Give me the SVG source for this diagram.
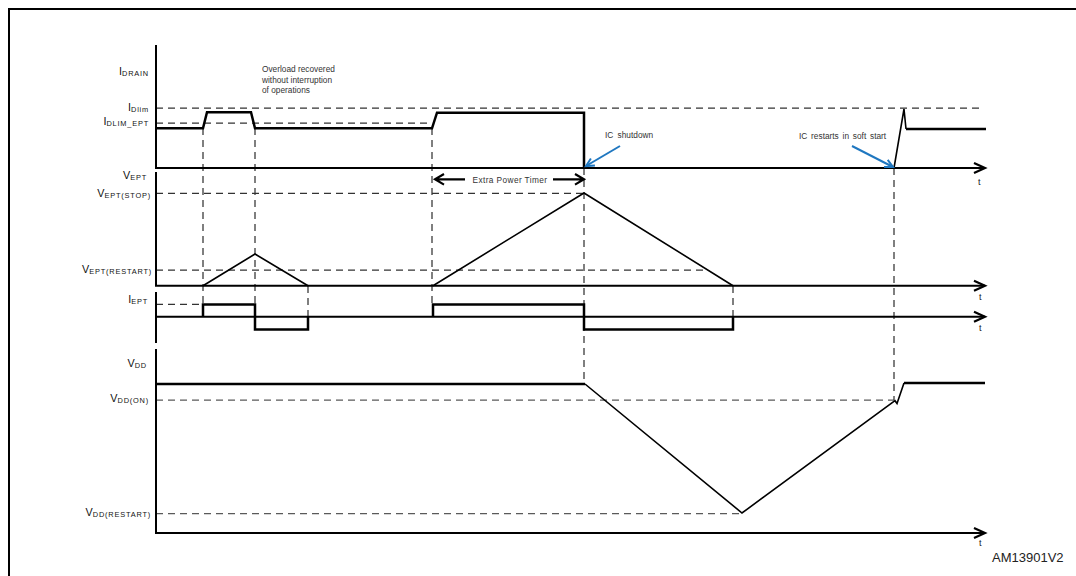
<svg xmlns="http://www.w3.org/2000/svg" width="1076" height="576" viewBox="0 0 1076 576">
<style>
.frame{stroke:#000;stroke-width:2;fill:none}
.ax{stroke:#000;stroke-width:2;fill:none}
.ah{stroke:#000;stroke-width:2.2;fill:none}
.wf{stroke:#000;stroke-width:2.5;fill:none;stroke-linejoin:miter}
.wt{stroke:#000;stroke-width:1.6;fill:none}
.dash{stroke:#333;stroke-width:1.25;stroke-dasharray:7 5;fill:none}
.dashg{stroke:#5a5a5a;stroke-width:1.25;stroke-dasharray:7 5;fill:none}
.lbl{font-family:"Liberation Sans",Arial,sans-serif;font-size:10.8px;fill:#111}
.sub{font-size:7.4px;letter-spacing:0.8px}
.note{font-family:"Liberation Sans",Arial,sans-serif;font-size:8.3px;fill:#333}
.tl{font-family:"Liberation Sans",Arial,sans-serif;font-size:9px;fill:#1a1a1a}
.blue{stroke:#1f77c0;stroke-width:2;fill:none}
</style>
<defs>
<marker id="bh" markerUnits="userSpaceOnUse" markerWidth="12" markerHeight="12" refX="9" refY="5" orient="auto">
<path d="M1,1 L9,5 L1,9" stroke="#1f77c0" stroke-width="2" fill="none"/>
</marker>
</defs>
<path class="frame" d="M9,590 V9 H1090"/>

<g id="guides">
<path class="dash" d="M156,108 H982 M156,123 H432 M156,193.3 H584 M156,270 H707 M156,304.3 H203"/>
<path class="dashg" d="M156,400 H894 M156,513.7 H741"/>
<path class="dash" d="M203,128 V304 M255,128 V329 M308,286 V329 M432,128 V304 M584,168 V384 M733,286 V329 M894,168 V400"/>
</g>

<g id="axes">
<path class="ax" d="M156,45 V168 H985"/>
<path class="ax" d="M156,172 V285.7 H985"/>
<path class="ax" d="M156,292 V343 M156,316.7 H985"/>
<path class="ax" d="M156,349 V533 H985"/>
<path class="ah" d="M974,163 L985,168 L974,173 M974,280.7 L985,285.7 L974,290.7 M974,311.7 L985,316.7 L974,321.7 M974,528 L985,533 L974,538"/>
<text class="tl" x="978" y="185">t</text>
<text class="tl" x="979" y="300">t</text>
<text class="tl" x="979" y="331">t</text>
<text class="tl" x="979" y="546">t</text>
</g>

<g id="idrain-wave">
<path class="wf" d="M156,128.3 H203 L207,112.3 H251 L255,128.3 H432 L437,112.7 H584 V168"/>
<path class="wt" d="M894,168 L904,109 L906,129"/>
<path class="wf" d="M906,129 H986"/>
</g>

<g id="vept-wave">
<path class="wt" d="M203,285.7 L255,254 L308,285.7"/>
<path class="wt" d="M433,285.7 L584,193 L733,285.7"/>
</g>

<g id="iept-wave">
<path class="wf" d="M203,316.7 V304.5 H255 V329.5 H308 V316.7"/>
<path class="wf" d="M433,316.7 V304.5 H584 V329.5 H733 V316.7"/>
</g>

<g id="vdd-wave">
<path class="wf" d="M156,384 H585"/>
<path class="wt" d="M585,384 L742,513 L895,400.7 L897,403.5 L904,383"/>
<path class="wf" d="M904,383 H985"/>
</g>

<g id="labels">
<text class="lbl" x="149" y="75" text-anchor="end">I<tspan class="sub" dy="1">DRAIN</tspan></text>
<text class="lbl" x="149" y="110.5" text-anchor="end">I<tspan class="sub" dy="1">Dlim</tspan></text>
<text class="lbl" x="149" y="125" text-anchor="end">I<tspan class="sub" dy="1">DLIM_EPT</tspan></text>
<text class="lbl" x="147" y="179" text-anchor="end">V<tspan class="sub" dy="1">EPT</tspan></text>
<text class="lbl" x="151" y="197" text-anchor="end">V<tspan class="sub" dy="1">EPT(STOP)</tspan></text>
<text class="lbl" x="152" y="273" text-anchor="end">V<tspan class="sub" dy="1">EPT(RESTART)</tspan></text>
<text class="lbl" x="148" y="303" text-anchor="end">I<tspan class="sub" dy="1">EPT</tspan></text>
<text class="lbl" x="147" y="367" text-anchor="end">V<tspan class="sub" dy="1">DD</tspan></text>
<text class="lbl" x="149" y="402" text-anchor="end">V<tspan class="sub" dy="1">DD(ON)</tspan></text>
<text class="lbl" x="151" y="516" text-anchor="end">V<tspan class="sub" dy="1">DD(RESTART)</tspan></text>
</g>

<g id="note-overload">
<text class="note" x="262" y="72">Overload recovered</text>
<text class="note" x="262" y="82.5">without interruption</text>
<text class="note" x="262" y="93">of operations</text>
</g>

<g id="note-shutdown">
<text class="note" x="605" y="138" word-spacing="2">IC shutdown</text>
<path class="blue" d="M620,146 L586,166" marker-end="url(#bh)"/>
</g>

<g id="note-restart">
<text class="note" x="799" y="138.5" word-spacing="1.5">IC restarts in soft start</text>
<path class="blue" d="M852,146 L893,167" marker-end="url(#bh)"/>
</g>

<g id="ept-timer">
<path class="ah" d="M435,179.3 H465 M553,179.3 H584 M444,174 L435,179.3 L444,184.6 M575,174 L584,179.3 L575,184.6"/>
<text class="note" x="510" y="182.5" text-anchor="middle" font-size="9" letter-spacing="0.4">Extra Power Timer</text>
</g>

<text x="992" y="562" font-family="'Liberation Sans',Arial,sans-serif" font-size="13" fill="#222">AM13901V2</text>
</svg>
